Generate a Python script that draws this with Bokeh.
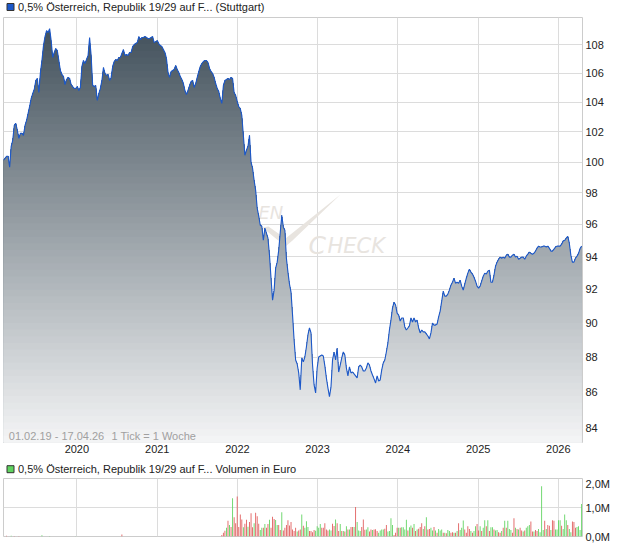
import numpy as np
import pandas as pd
from bokeh.plotting import figure
from bokeh.layouts import column
from bokeh.models import (Range1d, FixedTicker, CustomJSTickFormatter, Label,
                          BoxAnnotation, PolyAnnotation)
from bokeh.embed import file_html
from bokeh.resources import INLINE

# ---------------- data ----------------
START = "2019-02-01"          # first weekly tick (01.02.19)
END_SPAN_DAYS = 2636          # visible span of the x axis

PRICE = [
    100.12, 100.25, 100.38, 100.38, 99.67, 101.04, 101.44, 102.43, 102.57, 102.10,
    101.57, 101.90, 101.90, 101.77, 102.43, 102.77, 103.24, 103.71, 104.26, 104.59,
    104.87, 105.49, 105.63, 104.66, 106.04, 106.88, 107.93, 108.57, 108.99, 108.85,
    109.13, 108.28, 107.09, 107.44, 107.72, 107.58, 106.88, 106.18, 105.90, 105.77,
    105.21, 105.56, 105.70, 105.63, 105.21, 105.07, 104.94, 104.94, 105.07, 104.80,
    105.01, 106.46, 106.88, 106.67, 106.95, 107.23, 108.50, 107.23, 105.14, 105.07,
    105.14, 104.12, 104.59, 104.94, 105.49, 106.39, 105.98, 105.84, 105.91, 105.49,
    105.70, 106.46, 106.81, 106.95, 106.88, 107.09, 107.09, 107.37, 107.65, 107.23,
    107.30, 107.23, 107.44, 107.44, 107.86, 108.00, 108.07, 108.14, 108.57, 108.35,
    108.50, 108.50, 108.57, 108.50, 108.43, 108.43, 108.50, 108.57, 108.14, 108.21,
    108.28, 108.07, 107.93, 107.86, 107.65, 107.44, 107.02, 106.04, 105.70, 106.11,
    106.18, 106.25, 106.53, 106.25, 106.04, 105.77, 105.56, 105.28, 104.80, 104.53,
    104.80, 105.14, 105.42, 105.49, 105.01, 105.28, 105.70, 106.11, 106.46, 106.67,
    106.81, 106.88, 106.88, 106.74, 106.32, 106.11, 105.98, 105.70, 105.28, 104.94,
    104.73, 104.26, 103.92, 105.14, 105.49, 105.56, 105.63, 105.56, 105.70, 105.63,
    104.66, 104.46, 104.05, 103.71, 103.57, 103.10, 101.77, 100.45, 100.78, 101.04,
    101.77, 99.99, 99.60, 98.82, 98.17, 97.03, 96.52, 95.95, 95.89, 95.01,
    95.77, 95.45, 95.14, 94.09, 92.68, 91.36, 91.96, 93.29, 93.66, 94.40,
    95.51, 96.58, 95.83, 95.64, 93.90, 93.05, 92.32, 91.84, 90.47, 89.01,
    87.85, 87.62, 87.11, 86.15, 87.97, 87.74, 88.02, 88.60, 89.30, 89.71,
    89.42, 87.56, 86.43, 85.98, 87.39, 88.02, 88.08, 88.14, 88.08, 87.51,
    86.82, 86.26, 85.76, 86.32, 87.85, 88.31, 87.85, 88.54, 87.16, 87.56,
    87.97, 88.31, 88.14, 87.39, 86.94, 87.45, 87.11, 87.16, 87.05, 86.94,
    86.82, 87.45, 87.56, 87.45, 87.22, 87.22, 87.39, 87.68, 87.56, 87.22,
    86.99, 86.77, 86.54, 86.94, 86.65, 86.71, 87.28, 87.68, 87.85, 88.31,
    88.83, 89.59, 90.18, 90.89, 91.24, 91.07, 90.59, 90.47, 90.12, 90.30,
    90.30, 89.77, 89.59, 89.71, 89.83, 90.30, 90.06, 90.30, 90.06, 90.18,
    89.71, 89.42, 89.59, 89.48, 89.48, 89.36, 89.24, 89.07, 89.42, 90.00,
    89.88, 89.88, 89.94, 90.36, 90.71, 91.30, 91.90, 91.60, 91.60, 91.72,
    91.96, 92.26, 92.44, 92.68, 92.38, 92.44, 92.38, 92.56, 92.20, 91.96,
    92.32, 92.68, 92.99, 93.23, 93.05, 92.93, 92.74, 92.50, 92.20, 92.08,
    92.20, 92.50, 92.80, 92.99, 92.93, 93.11, 93.17, 92.44, 92.44, 92.86,
    93.41, 93.66, 93.84, 93.97, 93.90, 93.97, 93.90, 94.09, 94.15, 93.97,
    93.97, 94.09, 94.15, 93.97, 94.03, 93.84, 93.90, 93.97, 93.97, 93.84,
    94.03, 94.15, 94.28, 94.21, 94.15, 94.21, 94.34, 94.52, 94.65, 94.59,
    94.59, 94.65, 94.65, 94.59, 94.65, 94.52, 94.34, 94.34, 94.46, 94.59,
    94.65, 94.65, 94.65, 94.77, 94.96, 95.01, 95.14, 95.26, 94.83, 94.09,
    93.66, 93.66, 93.90, 94.03, 94.20, 94.50, 94.65,
]

# weekly volume in million euro
VOLUME = [
    0, 0, 0.03, 0, 0, 0.03, 0, 0.02, 0, 0, 0.02, 0, 0, 0, 0, 0, 0, 0, 0, 0,
    0, 0, 0, 0, 0, 0.04, 0, 0, 0, 0, 0.02, 0, 0, 0, 0, 0, 0, 0, 0, 0,
    0, 0, 0, 0, 0, 0, 0, 0.01, 0, 0, 0, 0, 0, 0, 0, 0, 0, 0, 0, 0,
    0, 0, 0, 0, 0, 0, 0, 0, 0, 0, 0, 0, 0, 0, 0, 0, 0, 0.07, 0, 0,
    0, 0, 0, 0, 0, 0, 0, 0, 0, 0, 0, 0, 0, 0, 0, 0, 0, 0, 0, 0,
    0, 0, 0, 0, 0, 0, 0, 0, 0, 0, 0, 0, 0, 0, 0, 0, 0, 0, 0, 0,
    0, 0, 0, 0, 0, 0, 0, 0, 0, 0, 0, 0, 0, 0, 0, 0, 0, 0, 0, 0,
    0, 0,
    0.05, 0.13, 0.20, 0.30, 0.54, 0.40, 0.33, 1.32, 0.66, 0.46,
    1.38, 0.33, 0.76, 0.59, 0.32, 0.44, 0.58, 0.34, 0.50, 0.80,
    0.32, 0.46, 0.82, 0.70, 0.44, 0.22, 0.30, 0.30, 0.43, 0.30,
    0.43, 0.58, 0.30, 0.68, 0.60, 0.57, 0.40, 0.40, 0.22, 0.84,
    0.21, 0.30, 0.40, 0.56, 0.38, 0.50, 0.24, 0.19, 0.30, 0.17,
    0.21, 0.24, 0.76, 0.37, 0.30, 0.53, 0.33, 0.19, 0.19, 0.15,
    0.22, 0.20, 0.35, 0.30, 0.43, 0.30, 0.30, 0.46, 0.24, 0.21,
    0.24, 0.21, 0.44, 0.36, 0.59, 0.46, 0.19, 0.43, 0.19, 0.19,
    0.17, 0.35, 0.24, 0.24, 0.33, 0.33, 0.33, 1.02, 0.50, 0.21,
    0.19, 0.33, 0.59, 0.23, 0.24, 0.32, 0.17, 0.24, 0.22, 0.24,
    0.25, 0.19, 0.13, 0.21, 0.24, 0.24, 0.27, 0.40, 0.17, 0.19,
    0.63, 0.40, 0.05, 0.13, 0.30, 0.30, 0.30, 0.32,
    0.32, 0.24, 0.58, 0.21, 0.32, 0.38, 0.30, 0.43, 0.19, 0.24,
    0.27, 0.33, 0.46, 0.26, 0.35, 0.66, 0.24, 0.26, 0.30, 0.21,
    0.33, 0.21, 0.13, 0.26, 0.21, 0.24, 0.13, 0.13, 0.11, 0.22,
    0.19, 0.13, 0.15, 0.13, 0.13, 0.19, 0.46, 0.22, 0.30, 0.55,
    0.24, 0.13, 0.35, 0.26, 0.19, 0.13, 0.19, 0.35, 0.43, 0.21,
    0.35, 0.19, 0.30, 0.56, 0.35, 0.56, 0.19, 0.32, 0.32, 0.24,
    0.21, 0.22, 0.15, 0.13, 0.19, 0.30, 0.54, 0.30, 0.54, 0.26,
    0.22, 0.13, 0.63, 0.30, 0.26, 0.24, 0.30, 0.21, 0.17, 0.21,
    0.30, 0.35, 0.40, 0.52, 0.17, 0.17, 0.22, 0.19, 0.26, 0.15,
    1.73, 0.22, 0.54, 0.26, 0.40, 0.37, 0.22, 0.56, 0.54, 0.24,
    0.24, 0.56, 0.56, 0.37, 0.26, 0.76, 0.56, 0.40, 0.26, 0.15,
    0.52, 0.50, 0.30, 0.33, 0.35, 0.22, 1.12,
]

# g = green (up) bar, r = red (down) bar, one letter per week
VOL_DIR = "".join([
    "ggrggggrggrggggggggg", "gggggggggggggggggggg", "gggggggggggggggggggg",
    "gggggggggggggggggrgg", "gggggggggggggggggggg", "gggggggggggggggggggg",
    "gggggggggggggggggggg", "gg",
    "rrrgrgrgrr", "rrrrgrrgrr", "rgrrrggrgr", "rgrrrggrrg", "rrrrrrrrrg",
    "rrgrgggrrr", "rggggrrrrr", "ggrrgrrgrg", "rgrgrrgrgg", "grrrggrrgr",
    "rrggggrrgg", "ggrrrgrg",
    "gggrggrgrg", "rrrgrgrrgg", "rgrgggrgrg", "grrgrgrggg", "rrrrgrggrr",
    "grggrgrggr", "ggrrgrgrgg", "grrgrgrrgr", "gggrrgrrgg", "ggrgrrgrrg",
    "gggrgggrgg", "rrrgggg",
])

Y_TICKS = [84, 86, 88, 90, 92, 94, 96, 98, 100, 102, 104, 106, 108]
YEARS = [2020, 2021, 2022, 2023, 2024, 2025, 2026]
VOL_TICKS = [0, 1, 2]

TITLE_PRICE = "0,5% Österreich, Republik 19/29 auf F... (Stuttgart)"
TITLE_VOL = "0,5% Österreich, Republik 19/29 auf F... Volumen in Euro"
RANGE_TEXT = "01.02.19 - 17.04.26"
TICK_TEXT = "1 Tick = 1 Woche"

# ---------------- styling ----------------
FONT = "Liberation Sans"
TXT = "#222222"
GRID = "#dcdcdc"
LINE_BLUE = "#1c58c9"
GREEN = "#5fd35f"
RED = "#e05c5c"
TOP_RGB = (62, 77, 88)
BOT_RGB = (244, 245, 246)
FIG_W = 610

n = len(PRICE)
dates = pd.date_range(START, periods=n, freq="7D")
price = np.array(PRICE, dtype=float)
vol = np.array((VOLUME + [0] * n)[:n], dtype=float)
dirs = (VOL_DIR + "g" * n)[:n]
vcolors = [GREEN if c == "g" else RED for c in dirs]

x_start = pd.Timestamp(START)
x_end = x_start + pd.Timedelta(days=END_SPAN_DAYS)
xr = Range1d(start=x_start, end=x_end)
Y_LO, Y_HI = 83.23, 109.93

year_ms = [pd.Timestamp(f"{y}-01-01").value // 10**6 for y in YEARS]
year_fmt = CustomJSTickFormatter(code="return String(new Date(tick).getUTCFullYear());")

FW, FH1, FH2 = 579, 425, 58


def header(height, sq_color, text, cy):
    """A thin strip holding a coloured square and the series caption."""
    f = figure(frame_width=FIG_W, frame_height=height, x_range=Range1d(0, 1),
               y_range=Range1d(0, 1), x_axis_location=None, y_axis_location=None,
               output_backend="svg", toolbar_location=None, min_border=0,
               outline_line_color=None, background_fill_color="white",
               border_fill_color="white")
    f.grid.visible = False
    sy = height - cy
    f.add_layout(BoxAnnotation(left=3.5, right=10.5, bottom=sy - 3.5, top=sy + 3.5,
                               left_units="screen", right_units="screen",
                               bottom_units="screen", top_units="screen",
                               fill_color=sq_color, fill_alpha=1, line_color="#333333",
                               line_alpha=1, line_width=1))
    f.add_layout(Label(x=14.5, y=sy, x_units="screen", y_units="screen", text=text,
                       text_font=FONT, text_font_size="11px", text_color=TXT,
                       text_baseline="middle"))
    return f


h1 = header(16, LINE_BLUE, TITLE_PRICE, 6.5)

p = figure(frame_width=FW, frame_height=FH1, x_axis_type="datetime",
           y_axis_type="log", y_axis_location="right",
           x_range=xr, y_range=Range1d(Y_LO, Y_HI),
           output_backend="svg", toolbar_location=None,
           min_border_left=3, min_border_right=25, min_border_top=1,
           min_border_bottom=16, background_fill_color="white",
           border_fill_color="white", outline_line_color="#cccccc")

# watermark (drawn under the area)
wm = "#e8e4df"
p.add_layout(PolyAnnotation(xs=[259, 265, 282, 337, 289, 282], ys=[215, 216, 204, 248, 202, 196],
                            xs_units="screen", ys_units="screen", fill_color=wm, fill_alpha=1,
                            line_color=None, level="underlay"))
for x, y, t, s in [(255, 230, "EN", "18px"), (305, 197, "C", "25px"), (324, 197, "HECK", "21px")]:
    p.add_layout(Label(x=x, y=y, x_units="screen", y_units="screen", text=t,
                       text_font="DejaVu Sans", text_font_style="italic", text_font_size=s,
                       text_color=wm, text_baseline="alphabetic", level="underlay"))

# gradient area: stacked bands, darkest first
NB = 64
llo, lhi = np.log(Y_LO), np.log(Y_HI)
step = (lhi - llo) / NB
for k in reversed(range(NB)):
    cap = np.exp(llo + (k + 1) * step)
    t = (k + 0.5) / NB
    rgb = tuple(int(round(b + (a - b) * t)) for a, b in zip(TOP_RGB, BOT_RGB))
    col = "#%02x%02x%02x" % rgb
    p.varea(x=dates, y1=Y_LO * 0.98, y2=np.minimum(price, cap), fill_color=col)

p.line(x=dates, y=price, line_color=LINE_BLUE, line_width=1.1)

for ax in (p.xaxis, p.yaxis):
    ax.axis_line_color = None
    ax.major_tick_line_color = None
    ax.minor_tick_line_color = None
    ax.major_tick_out = 0
    ax.major_tick_in = 0
    ax.minor_tick_out = 0
    ax.minor_tick_in = 0
    ax.major_label_text_font = FONT
    ax.major_label_text_font_size = "11px"
    ax.major_label_text_color = TXT
p.xaxis.ticker = FixedTicker(ticks=year_ms)
p.xaxis.formatter = year_fmt
p.xaxis.major_label_standoff = 2
p.yaxis.ticker = FixedTicker(ticks=Y_TICKS)
p.yaxis.formatter = CustomJSTickFormatter(code="return tick.toFixed(0);")
p.yaxis.major_label_standoff = 3
p.xgrid.ticker = FixedTicker(ticks=year_ms)
p.ygrid.ticker = FixedTicker(ticks=Y_TICKS)
p.xgrid.grid_line_color = GRID
p.ygrid.grid_line_color = GRID

p.add_layout(Label(x=5.3, y=7, x_units="screen", y_units="screen", text=RANGE_TEXT,
                   text_font=FONT, text_font_size="11px", text_color="#a0a0a0",
                   text_baseline="middle"))
p.add_layout(Label(x=108, y=7, x_units="screen", y_units="screen", text=TICK_TEXT,
                   text_font=FONT, text_font_size="11px", text_color="#a0a0a0",
                   text_baseline="middle"))

h2 = header(19, GREEN, TITLE_VOL, 10.7)

# ---------------- volume panel ----------------
p2 = figure(frame_width=FW, frame_height=FH2, x_axis_type="datetime",
            x_axis_location=None, y_axis_location="right",
            x_range=xr, y_range=Range1d(0, 2.0),
            output_backend="svg", toolbar_location=None,
            min_border_left=3, min_border_right=25, min_border_top=1,
            min_border_bottom=9, background_fill_color="white",
            border_fill_color="white", outline_line_color="#cccccc")
p2.vbar(x=dates, top=vol, width=4 * 86400000, fill_color=vcolors, line_color=None)
p2.xgrid.ticker = FixedTicker(ticks=year_ms)
p2.xgrid.grid_line_color = GRID
p2.ygrid.grid_line_color = GRID
p2.yaxis.ticker = FixedTicker(ticks=VOL_TICKS)
p2.yaxis.formatter = CustomJSTickFormatter(code="return tick.toFixed(1).replace('.', ',') + 'M';")
p2.yaxis.axis_line_color = None
p2.yaxis.major_tick_line_color = None
p2.yaxis.minor_tick_line_color = None
p2.yaxis.major_tick_out = 0
p2.yaxis.major_tick_in = 0
p2.yaxis.major_label_text_font = FONT
p2.yaxis.major_label_text_font_size = "11px"
p2.yaxis.major_label_text_color = TXT
p2.yaxis.major_label_standoff = 3

layout = column(h1, p, h2, p2, spacing=0)
open("out.html", "w").write(file_html(layout, INLINE))
